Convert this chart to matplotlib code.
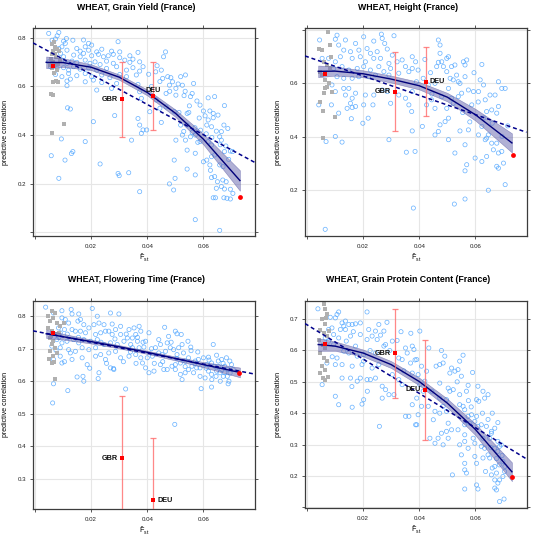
import matplotlib
matplotlib.use('Agg')
import matplotlib.pyplot as plt
import numpy as np

plt.rcParams['font.family'] = ['Liberation Sans', 'DejaVu Sans']
plt.rcParams['mathtext.fontset'] = 'custom'
plt.rcParams['mathtext.rm'] = 'Liberation Sans'
plt.rcParams['mathtext.it'] = 'Liberation Sans:italic'
plt.rcParams['mathtext.bf'] = 'Liberation Sans:bold'

# ---------------- shared ----------------
titles = ["WHEAT, Grain Yield (France)", "WHEAT, Height (France)",
          "WHEAT, Flowering Time (France)", "WHEAT, Grain Protein Content (France)"]
x_ticks = [0.0, 0.02, 0.04, 0.06]
x_tick_labels = ["", "0.02", "0.04", "0.06"]
x_limits = (-0.0007, 0.0782)
fit_f = [0.004, 0.01, 0.02, 0.03, 0.04, 0.05, 0.06, 0.073]
label_names = ["GBR", "DEU"]

# ---------------- panel 1 : Grain Yield ----------------
gy_f = [0.0049, 0.0085, 0.0079, 0.0112, 0.0061, 0.0073, 0.0102, 0.0108, 0.0135, 0.0173, 0.0191, 0.0202, 0.0296,
        0.0085, 0.0096, 0.0114, 0.0149, 0.0161, 0.0179, 0.0191, 0.0220, 0.0238, 0.0273, 0.0302,
        0.0091, 0.0102, 0.0138, 0.0161, 0.0173, 0.0202, 0.0226, 0.0244, 0.0261, 0.0279, 0.0302, 0.0367, 0.0338,
        0.0049, 0.0096, 0.0114, 0.0132, 0.0149, 0.0179, 0.0196, 0.0214, 0.0232, 0.0255, 0.0279, 0.0320, 0.0338, 0.0349, 0.0373,
        0.0055, 0.0079, 0.0102, 0.0120, 0.0138, 0.0161, 0.0191, 0.0220, 0.0255, 0.0291, 0.0326, 0.0349, 0.0373, 0.0385,
        0.0073, 0.0096, 0.0120, 0.0149, 0.0179, 0.0202, 0.0238, 0.0267, 0.0302, 0.0326, 0.0361,
        0.0114, 0.0126, 0.0179, 0.0208, 0.0238, 0.0291, 0.0367, 0.0114, 0.0273, 0.0373, 0.0220, 0.0379,
        0.0116, 0.0126, 0.0208, 0.0094, 0.0179, 0.0135, 0.0130, 0.0058, 0.0107, 0.0232, 0.0296, 0.0300, 0.0334,
        0.0085, 0.0373, 0.0344, 0.0367, 0.0373, 0.0385, 0.0379, 0.0284,
        0.0465, 0.0458, 0.0435, 0.0450, 0.0473, 0.0455, 0.0484, 0.0490, 0.0519, 0.0536, 0.0565, 0.0525, 0.0502,
        0.0479, 0.0467, 0.0502, 0.0531, 0.0560, 0.0554, 0.0617, 0.0640, 0.0577, 0.0588, 0.0675, 0.0542, 0.0600,
        0.0623, 0.0635, 0.0606, 0.0617, 0.0652, 0.0635, 0.0612, 0.0629, 0.0673, 0.0687, 0.0664, 0.0646, 0.0658,
        0.0571, 0.0560, 0.0554, 0.0525, 0.0502, 0.0536, 0.0588, 0.0542, 0.0571, 0.0617, 0.0629, 0.0664, 0.0696,
        0.0675, 0.0600, 0.0612, 0.0629, 0.0640, 0.0623, 0.0658, 0.0496, 0.0542, 0.0571, 0.0499, 0.0479, 0.0494,
        0.0629, 0.0640, 0.0669, 0.0681, 0.0650, 0.0664, 0.0646, 0.0675, 0.0696, 0.0635, 0.0643, 0.0673, 0.0684,
        0.0696, 0.0571, 0.0658, 0.0409, 0.0450, 0.0398, 0.0432, 0.0467, 0.0496, 0.0513, 0.0548, 0.0519, 0.0542,
        0.0704, 0.0570, 0.0590, 0.0530, 0.0610, 0.0630, 0.0660, 0.0680, 0.0690, 0.0670, 0.0625, 0.0705, 0.0580,
        0.0445, 0.0480, 0.0510, 0.0535, 0.0550, 0.0585, 0.0445, 0.0415, 0.0430, 0.0405]
gy_r = [0.818, 0.822, 0.808, 0.797, 0.790, 0.795, 0.786, 0.777, 0.790, 0.791, 0.777, 0.770, 0.784,
        0.756, 0.763, 0.749, 0.756, 0.745, 0.763, 0.749, 0.742, 0.753, 0.745, 0.742,
        0.736, 0.722, 0.729, 0.722, 0.736, 0.726, 0.732, 0.722, 0.726, 0.732, 0.718, 0.740, 0.726,
        0.701, 0.708, 0.695, 0.704, 0.699, 0.708, 0.695, 0.701, 0.690, 0.704, 0.695, 0.708, 0.699, 0.712, 0.701,
        0.681, 0.674, 0.677, 0.667, 0.681, 0.671, 0.677, 0.667, 0.674, 0.681, 0.667, 0.677, 0.663, 0.681,
        0.649, 0.640, 0.653, 0.644, 0.653, 0.640, 0.647, 0.636, 0.649, 0.640, 0.647,
        0.622, 0.630, 0.619, 0.626, 0.616, 0.612, 0.608, 0.603, 0.592, 0.578, 0.585, 0.551,
        0.512, 0.507, 0.455, 0.384, 0.373, 0.332, 0.324, 0.315, 0.297, 0.281, 0.242, 0.233, 0.245,
        0.222, 0.167, 0.379, 0.468, 0.441, 0.421, 0.407, 0.480,
        0.742, 0.722, 0.685, 0.667, 0.640, 0.633, 0.636, 0.619, 0.640, 0.647, 0.612, 0.605, 0.592,
        0.605, 0.571, 0.564, 0.562, 0.571, 0.558, 0.553, 0.558, 0.540, 0.523, 0.521, 0.489, 0.499,
        0.499, 0.489, 0.479, 0.462, 0.482, 0.471, 0.441, 0.434, 0.441, 0.427, 0.414, 0.416, 0.393,
        0.400, 0.411, 0.393, 0.400, 0.379, 0.379, 0.373, 0.338, 0.325, 0.373, 0.359, 0.379, 0.334,
        0.332, 0.290, 0.297, 0.311, 0.318, 0.277, 0.277, 0.297, 0.260, 0.236, 0.222, 0.199, 0.174,
        0.225, 0.229, 0.215, 0.208, 0.208, 0.188, 0.181, 0.178, 0.177, 0.142, 0.142, 0.142, 0.140,
        0.137, 0.052, 0.008, 0.496, 0.452, 0.421, 0.544, 0.516, 0.496, 0.493, 0.493, 0.441, 0.441,
        0.332, 0.430, 0.420, 0.415, 0.405, 0.390, 0.360, 0.355, 0.300, 0.270, 0.255, 0.160, 0.370,
        0.620, 0.580, 0.610, 0.580, 0.520, 0.470, 0.510, 0.600, 0.660, 0.650]
gy_ref_f = [0.0061, 0.0067, 0.0073, 0.0079, 0.0064, 0.0070, 0.0076, 0.0058, 0.0066, 0.0072, 0.0062, 0.0078, 0.0069,
            0.0082, 0.0085, 0.0059, 0.0065, 0.0075, 0.0082, 0.0058, 0.0064, 0.0102, 0.0061, 0.0055, 0.0088]
gy_ref_r = [0.773, 0.781, 0.764, 0.752, 0.745, 0.733, 0.722, 0.712, 0.702, 0.690, 0.676, 0.668, 0.655,
            0.693, 0.745, 0.735, 0.620, 0.622, 0.618, 0.568, 0.566, 0.444, 0.407, 0.690, 0.710]
gy_fit = [0.699, 0.698, 0.679, 0.638, 0.575, 0.490, 0.383, 0.213]
gy_band = [0.024, 0.018, 0.012, 0.011, 0.012, 0.015, 0.022, 0.042]
gy_lin = [0.779, 0.288]
gy_fra = [0.0065, 0.684]
gy_end = [0.0729, 0.145]
gy_pop_f = [0.031, 0.042]
gy_pop_r = [0.548, 0.560]
gy_pop_lo = [0.392, 0.419]
gy_pop_hi = [0.700, 0.700]

# ---------------- panel 2 : Height ----------------
ht_f = [0.0045, 0.0101, 0.0107, 0.0137, 0.0173, 0.0202, 0.0238, 0.0268, 0.0265, 0.0310, 0.0277, 0.0113, 0.0131,
        0.0155, 0.0185, 0.0214, 0.0226, 0.0250, 0.0286, 0.0304, 0.0339, 0.0375, 0.0387, 0.0054, 0.0077, 0.0101,
        0.0119, 0.0161, 0.0190, 0.0208, 0.0238, 0.0262, 0.0292, 0.0321, 0.0351, 0.0375, 0.0095, 0.0125, 0.0149,
        0.0179, 0.0202, 0.0226, 0.0256, 0.0274, 0.0298, 0.0327, 0.0363, 0.0107, 0.0131, 0.0161, 0.0185, 0.0220,
        0.0244, 0.0292, 0.0089, 0.0101, 0.0131, 0.0149, 0.0173, 0.0137, 0.0161, 0.0208, 0.0238, 0.0268, 0.0286,
        0.0298, 0.0327, 0.0351, 0.0363, 0.0375, 0.0373, 0.0087, 0.0155, 0.0161, 0.0173, 0.0202, 0.0235, 0.0199,
        0.0218, 0.0113, 0.0143, 0.0375, 0.0292, 0.0354, 0.0068, 0.0101, 0.0125, 0.0379, 0.0065, 0.0042, 0.0158,
        0.0468, 0.0474, 0.0474, 0.0504, 0.0498, 0.0480, 0.0468, 0.0462, 0.0486, 0.0498, 0.0515, 0.0527, 0.0557,
        0.0563, 0.0569, 0.0623, 0.0563, 0.0510, 0.0521, 0.0533, 0.0539, 0.0456, 0.0432, 0.0414, 0.0396, 0.0390,
        0.0617, 0.0629, 0.0682, 0.0706, 0.0694, 0.0670, 0.0652, 0.0635, 0.0611, 0.0593, 0.0575, 0.0551, 0.0539,
        0.0504, 0.0480, 0.0515, 0.0444, 0.0426, 0.0456, 0.0498, 0.0521, 0.0587, 0.0658, 0.0676, 0.0682, 0.0504,
        0.0492, 0.0474, 0.0468, 0.0456, 0.0504, 0.0545, 0.0575, 0.0623, 0.0611, 0.0635, 0.0646, 0.0658, 0.0664,
        0.0640, 0.0676, 0.0694, 0.0682, 0.0563, 0.0527, 0.0599, 0.0569, 0.0563, 0.0623, 0.0640, 0.0676, 0.0700,
        0.0682, 0.0706, 0.0646, 0.0563, 0.0525, 0.0411, 0.0385, 0.0640,
        0.0610, 0.0630, 0.0660, 0.0555, 0.0580, 0.0695, 0.0715, 0.0545, 0.0595, 0.0440, 0.0420, 0.0445]
ht_r = [0.763, 0.766, 0.781, 0.763, 0.750, 0.775, 0.759, 0.769, 0.785, 0.779, 0.750, 0.744, 0.725,
        0.719, 0.725, 0.731, 0.713, 0.719, 0.729, 0.706, 0.688, 0.700, 0.681, 0.694, 0.694, 0.681,
        0.700, 0.694, 0.700, 0.681, 0.694, 0.694, 0.675, 0.681, 0.663, 0.656, 0.656, 0.663, 0.650,
        0.656, 0.663, 0.650, 0.663, 0.644, 0.656, 0.638, 0.644, 0.625, 0.619, 0.619, 0.625, 0.625,
        0.631, 0.631, 0.594, 0.569, 0.581, 0.581, 0.563, 0.556, 0.544, 0.556, 0.556, 0.575, 0.569,
        0.525, 0.556, 0.544, 0.519, 0.569, 0.494, 0.519, 0.525, 0.509, 0.513, 0.519, 0.519, 0.450,
        0.469, 0.488, 0.506, 0.421, 0.388, 0.341, 0.381, 0.400, 0.379, 0.131, 0.051, 0.519, 0.467,
        0.763, 0.744, 0.713, 0.700, 0.694, 0.681, 0.679, 0.663, 0.663, 0.644, 0.663, 0.669, 0.681,
        0.669, 0.688, 0.671, 0.625, 0.619, 0.613, 0.631, 0.606, 0.600, 0.594, 0.619, 0.650, 0.606,
        0.613, 0.594, 0.606, 0.581, 0.581, 0.556, 0.556, 0.538, 0.569, 0.569, 0.575, 0.563, 0.550,
        0.581, 0.550, 0.544, 0.538, 0.519, 0.506, 0.506, 0.525, 0.519, 0.500, 0.488, 0.513, 0.469,
        0.456, 0.444, 0.419, 0.406, 0.388, 0.421, 0.425, 0.438, 0.406, 0.388, 0.406, 0.375, 0.350,
        0.394, 0.375, 0.344, 0.338, 0.369, 0.338, 0.319, 0.294, 0.271, 0.306, 0.325, 0.288, 0.300,
        0.281, 0.219, 0.198, 0.165, 0.146, 0.438, 0.344, 0.494,
        0.530, 0.470, 0.450, 0.490, 0.455, 0.400, 0.440, 0.600, 0.640, 0.640, 0.690, 0.560]
ht_ref_f = [0.0075, 0.0044, 0.0054, 0.0083, 0.0087, 0.0060, 0.0071, 0.0083, 0.0048, 0.0054, 0.0065, 0.0077,
            0.0071, 0.0060, 0.0048, 0.0056, 0.0099, 0.0056, 0.0089, 0.0065]
ht_ref_r = [0.794, 0.731, 0.725, 0.744, 0.700, 0.681, 0.669, 0.656, 0.644, 0.631, 0.613, 0.600,
            0.588, 0.563, 0.531, 0.496, 0.475, 0.396, 0.569, 0.581]
ht_fit = [0.645, 0.646, 0.636, 0.616, 0.591, 0.548, 0.482, 0.376]
ht_band = [0.022, 0.017, 0.013, 0.013, 0.014, 0.016, 0.022, 0.036]
ht_lin = [0.703, 0.416]
ht_fra = [0.0065, 0.635]
ht_end = [0.0733, 0.329]
ht_pop_f = [0.0312, 0.0423]
ht_pop_r = [0.569, 0.606]
ht_pop_lo = [0.419, 0.478]
ht_pop_hi = [0.716, 0.738]

# ---------------- panel 3 : Flowering Time ----------------
ft_f = [0.0038, 0.0066, 0.0096, 0.0129, 0.0132, 0.0156, 0.0204, 0.0222, 0.0269, 0.0299, 0.0096, 0.0108, 0.0120,
        0.0153, 0.0162, 0.0174, 0.0192, 0.0210, 0.0228, 0.0246, 0.0263, 0.0275, 0.0287, 0.0305, 0.0335, 0.0353,
        0.0359, 0.0371, 0.0377, 0.0084, 0.0090, 0.0105, 0.0132, 0.0144, 0.0162, 0.0180, 0.0216, 0.0234, 0.0251,
        0.0275, 0.0305, 0.0329, 0.0347, 0.0365, 0.0078, 0.0096, 0.0114, 0.0138, 0.0156, 0.0174, 0.0198, 0.0222,
        0.0246, 0.0269, 0.0293, 0.0317, 0.0341, 0.0371, 0.0060, 0.0090, 0.0120, 0.0144, 0.0168, 0.0192, 0.0216,
        0.0234, 0.0263, 0.0287, 0.0305, 0.0335, 0.0359, 0.0377, 0.0383, 0.0066, 0.0096, 0.0132, 0.0168, 0.0186,
        0.0251, 0.0269, 0.0281, 0.0228, 0.0150, 0.0171, 0.0174, 0.0117, 0.0066, 0.0063, 0.0323, 0.0090, 0.0126,
        0.0216, 0.0347, 0.0225, 0.0280, 0.0255, 0.0195, 0.0105, 0.0315, 0.0340, 0.0360, 0.0385, 0.0075, 0.0085,
        0.0115, 0.0155, 0.0235, 0.0285, 0.0325, 0.0365,
        0.0462, 0.0441, 0.0406, 0.0394, 0.0388, 0.0429, 0.0447, 0.0471, 0.0476, 0.0500, 0.0506, 0.0521, 0.0545,
        0.0524, 0.0512, 0.0494, 0.0482, 0.0465, 0.0453, 0.0441, 0.0418, 0.0400, 0.0394, 0.0424, 0.0406, 0.0447,
        0.0459, 0.0471, 0.0488, 0.0500, 0.0518, 0.0535, 0.0547, 0.0556, 0.0529, 0.0506, 0.0635, 0.0647, 0.0618,
        0.0600, 0.0582, 0.0571, 0.0559, 0.0588, 0.0612, 0.0629, 0.0653, 0.0665, 0.0682, 0.0694, 0.0676, 0.0665,
        0.0647, 0.0629, 0.0618, 0.0606, 0.0588, 0.0576, 0.0524, 0.0518, 0.0535, 0.0671, 0.0688, 0.0691, 0.0629,
        0.0592, 0.0500, 0.0547, 0.0565, 0.0641, 0.0659, 0.0676, 0.0706, 0.0688, 0.0700, 0.0498,
        0.0630, 0.0660, 0.0685, 0.0655, 0.0610, 0.0570, 0.0535, 0.0505, 0.0455, 0.0425, 0.0415, 0.0485, 0.0555,
        0.0580, 0.0620, 0.0670, 0.0695, 0.0645]
ft_r = [0.828, 0.810, 0.817, 0.821, 0.807, 0.807, 0.824, 0.800, 0.810, 0.807, 0.795, 0.790, 0.779,
        0.785, 0.790, 0.774, 0.764, 0.774, 0.779, 0.774, 0.754, 0.776, 0.759, 0.769, 0.759, 0.764,
        0.744, 0.769, 0.754, 0.764, 0.749, 0.759, 0.759, 0.754, 0.754, 0.749, 0.744, 0.749, 0.754,
        0.744, 0.744, 0.733, 0.733, 0.723, 0.728, 0.718, 0.723, 0.728, 0.718, 0.728, 0.723, 0.728,
        0.713, 0.718, 0.713, 0.723, 0.713, 0.703, 0.708, 0.703, 0.697, 0.692, 0.703, 0.697, 0.703,
        0.682, 0.687, 0.692, 0.672, 0.677, 0.682, 0.672, 0.656, 0.667, 0.656, 0.667, 0.672, 0.651,
        0.667, 0.641, 0.636, 0.626, 0.613, 0.615, 0.600, 0.571, 0.592, 0.533, 0.576, 0.677, 0.687,
        0.677, 0.703, 0.608, 0.639, 0.655, 0.640, 0.660, 0.660, 0.690, 0.655, 0.720, 0.695, 0.735,
        0.745, 0.735, 0.720, 0.730, 0.745, 0.735,
        0.766, 0.728, 0.749, 0.723, 0.705, 0.703, 0.713, 0.718, 0.738, 0.754, 0.746, 0.744, 0.723,
        0.713, 0.703, 0.697, 0.703, 0.692, 0.682, 0.687, 0.677, 0.672, 0.641, 0.631, 0.626, 0.651,
        0.636, 0.636, 0.646, 0.651, 0.656, 0.662, 0.672, 0.694, 0.687, 0.682, 0.713, 0.680, 0.674,
        0.672, 0.667, 0.662, 0.646, 0.641, 0.651, 0.656, 0.662, 0.667, 0.672, 0.662, 0.646, 0.636,
        0.631, 0.621, 0.631, 0.610, 0.615, 0.641, 0.605, 0.621, 0.626, 0.615, 0.592, 0.600, 0.582,
        0.577, 0.636, 0.636, 0.626, 0.646, 0.626, 0.626, 0.636, 0.636, 0.651, 0.467,
        0.605, 0.600, 0.615, 0.645, 0.640, 0.655, 0.645, 0.670, 0.660, 0.655, 0.700, 0.720, 0.705,
        0.690, 0.665, 0.655, 0.625, 0.615]
ft_ref_f = [0.0060, 0.0072, 0.0048, 0.0066, 0.0054, 0.0078, 0.0090, 0.0105, 0.0048, 0.0060, 0.0072, 0.0054,
            0.0066, 0.0060, 0.0072, 0.0054, 0.0066, 0.0078, 0.0062, 0.0072, 0.0084, 0.0050, 0.0068, 0.0058]
ft_ref_r = [0.815, 0.810, 0.800, 0.795, 0.785, 0.779, 0.769, 0.779, 0.764, 0.754, 0.744, 0.733,
            0.723, 0.713, 0.703, 0.692, 0.677, 0.687, 0.656, 0.608, 0.749, 0.667, 0.660, 0.740]
ft_fit = [0.746, 0.737, 0.722, 0.706, 0.689, 0.670, 0.651, 0.627]
ft_band = [0.013, 0.009, 0.006, 0.005, 0.005, 0.006, 0.008, 0.015]
ft_lin = [0.755, 0.622]
ft_fra = [0.0066, 0.747]
ft_end = [0.0726, 0.626]
ft_pop_f = [0.031, 0.0421]
ft_pop_r = [0.363, 0.233]
ft_pop_lo = [0.170, 0.050]
ft_pop_hi = [0.554, 0.425]

# ---------------- panel 4 : Grain Protein Content ----------------
gp_f = [0.0039, 0.0113, 0.0107, 0.0101, 0.0083, 0.0125, 0.0137, 0.0131, 0.0149, 0.0161, 0.0173, 0.0190, 0.0214,
        0.0256, 0.0244, 0.0220, 0.0274, 0.0232, 0.0262, 0.0137, 0.0119, 0.0089, 0.0077, 0.0095, 0.0113, 0.0155,
        0.0190, 0.0214, 0.0250, 0.0280, 0.0321, 0.0351, 0.0375, 0.0357, 0.0077, 0.0095, 0.0107, 0.0131, 0.0149,
        0.0173, 0.0179, 0.0202, 0.0244, 0.0274, 0.0304, 0.0327, 0.0339, 0.0369, 0.0381, 0.0101, 0.0125, 0.0161,
        0.0196, 0.0232, 0.0256, 0.0202, 0.0071, 0.0155, 0.0179, 0.0190, 0.0214, 0.0226, 0.0244, 0.0268, 0.0280,
        0.0304, 0.0327, 0.0339, 0.0292, 0.0310, 0.0268, 0.0202, 0.0196, 0.0161, 0.0113, 0.0101, 0.0054, 0.0125,
        0.0375, 0.0351, 0.0363, 0.0387, 0.0258, 0.0375, 0.0285, 0.0335, 0.0370, 0.0295, 0.0225, 0.0140, 0.0165,
        0.0065, 0.0090, 0.0385, 0.0345, 0.0160, 0.0215,
        0.0402, 0.0434, 0.0391, 0.0408, 0.0426, 0.0396, 0.0420, 0.0402, 0.0414, 0.0391, 0.0408, 0.0432, 0.0396,
        0.0391, 0.0450, 0.0479, 0.0491, 0.0485, 0.0473, 0.0515, 0.0527, 0.0538, 0.0550, 0.0556, 0.0544, 0.0509,
        0.0473, 0.0503, 0.0509, 0.0521, 0.0574, 0.0568, 0.0544, 0.0604, 0.0612, 0.0633, 0.0645, 0.0627, 0.0609,
        0.0473, 0.0497, 0.0485, 0.0456, 0.0473, 0.0497, 0.0503, 0.0515, 0.0544, 0.0556, 0.0562, 0.0574, 0.0586,
        0.0604, 0.0598, 0.0580, 0.0562, 0.0609, 0.0621, 0.0639, 0.0657, 0.0669, 0.0651, 0.0627, 0.0621, 0.0633,
        0.0645, 0.0651, 0.0669, 0.0680, 0.0686, 0.0692, 0.0680, 0.0669, 0.0675, 0.0686, 0.0669, 0.0680, 0.0698,
        0.0698, 0.0704, 0.0562, 0.0562, 0.0544, 0.0503, 0.0479, 0.0485, 0.0467, 0.0438, 0.0456, 0.0550, 0.0574,
        0.0604, 0.0598, 0.0562, 0.0562, 0.0609, 0.0604, 0.0669, 0.0675, 0.0686, 0.0702, 0.0497, 0.0592, 0.0538,
        0.0598, 0.0657, 0.0518, 0.0568, 0.0627, 0.0636, 0.0657, 0.0562,
        0.0625, 0.0645, 0.0660, 0.0680, 0.0655, 0.0695, 0.0685, 0.0675, 0.0705, 0.0660, 0.0575, 0.0535, 0.0590,
        0.0445, 0.0460, 0.0585]
gp_r = [0.733, 0.723, 0.715, 0.704, 0.706, 0.688, 0.694, 0.678, 0.683, 0.683, 0.685, 0.688, 0.723,
        0.683, 0.662, 0.667, 0.662, 0.646, 0.649, 0.667, 0.667, 0.672, 0.667, 0.651, 0.640, 0.646,
        0.651, 0.635, 0.635, 0.619, 0.632, 0.608, 0.614, 0.592, 0.630, 0.619, 0.576, 0.598, 0.592,
        0.614, 0.582, 0.587, 0.592, 0.614, 0.630, 0.576, 0.571, 0.560, 0.603, 0.555, 0.555, 0.550,
        0.555, 0.544, 0.555, 0.566, 0.560, 0.512, 0.502, 0.512, 0.507, 0.507, 0.512, 0.486, 0.475,
        0.523, 0.507, 0.491, 0.459, 0.459, 0.448, 0.443, 0.429, 0.419, 0.427, 0.454, 0.491, 0.512,
        0.427, 0.390, 0.390, 0.363, 0.358, 0.528, 0.690, 0.660, 0.655, 0.600, 0.600, 0.630, 0.660,
        0.640, 0.580, 0.570, 0.535, 0.485, 0.470,
        0.662, 0.608, 0.571, 0.550, 0.534, 0.523, 0.502, 0.491, 0.470, 0.448, 0.422, 0.422, 0.395,
        0.363, 0.379, 0.600, 0.582, 0.560, 0.555, 0.544, 0.534, 0.539, 0.518, 0.585, 0.566, 0.528,
        0.496, 0.480, 0.470, 0.475, 0.489, 0.470, 0.459, 0.443, 0.438, 0.448, 0.459, 0.470, 0.486,
        0.448, 0.443, 0.422, 0.406, 0.400, 0.406, 0.368, 0.347, 0.427, 0.422, 0.411, 0.390, 0.395,
        0.390, 0.374, 0.368, 0.363, 0.358, 0.363, 0.358, 0.336, 0.352, 0.320, 0.320, 0.294, 0.288,
        0.267, 0.257, 0.288, 0.278, 0.294, 0.299, 0.310, 0.230, 0.209, 0.187, 0.187, 0.177, 0.198,
        0.246, 0.214, 0.331, 0.310, 0.299, 0.320, 0.336, 0.299, 0.320, 0.320, 0.304, 0.267, 0.288,
        0.240, 0.262, 0.240, 0.219, 0.158, 0.171, 0.161, 0.155, 0.118, 0.126, 0.342, 0.320, 0.347,
        0.304, 0.203, 0.203, 0.209, 0.257, 0.214, 0.342, 0.158,
        0.400, 0.380, 0.400, 0.370, 0.290, 0.265, 0.235, 0.255, 0.230, 0.225, 0.440, 0.500, 0.530,
        0.470, 0.550, 0.420]
gp_ref_f = [0.0060, 0.0063, 0.0071, 0.0054, 0.0065, 0.0048, 0.0060, 0.0071, 0.0042, 0.0056, 0.0065, 0.0048,
            0.0060, 0.0071, 0.0054, 0.0063, 0.0048, 0.0056, 0.0065, 0.0075, 0.0068, 0.0077]
gp_ref_r = [0.747, 0.731, 0.715, 0.699, 0.683, 0.667, 0.656, 0.646, 0.635, 0.619, 0.608, 0.592,
            0.576, 0.566, 0.550, 0.539, 0.528, 0.512, 0.507, 0.515, 0.704, 0.662]
gp_fit = [0.619, 0.614, 0.592, 0.555, 0.501, 0.432, 0.348, 0.213]
gp_band = [0.020, 0.015, 0.011, 0.011, 0.012, 0.014, 0.018, 0.030]
gp_lin = [0.686, 0.254]
gp_fra = [0.0063, 0.621]
gp_end = [0.0731, 0.196]
gp_pop_f = [0.0312, 0.0422]
gp_pop_r = [0.592, 0.475]
gp_pop_lo = [0.448, 0.315]
gp_pop_hi = [0.734, 0.633]

# ---------------- layout / style (not data) ----------------
W = H = 545.0
boxes = [(33, 28.3, 254.5, 235.7), (305, 28.3, 526.5, 235.7),
         (33, 301.3, 254.5, 508.5), (305, 301.3, 526.5, 507.5)]
title_xy = [(136, 7.5), (408.5, 7.5), (136, 279.5), (408.5, 279.5)]
ylims = [(-0.014, 0.839), (0.027, 0.807), (0.208, 0.846), (0.099, 0.757)]
yticks = [[0.0, 0.2, 0.4, 0.6, 0.8], [0.2, 0.4, 0.6, 0.8], [0.3, 0.4, 0.5, 0.6, 0.7, 0.8],
          [0.1, 0.2, 0.3, 0.4, 0.5, 0.6, 0.7]]
ytick_labels = [["", "0.2", "0.4", "0.6", "0.8"], ["0.2", "0.4", "0.6", ""],
                ["0.3", "0.4", "0.5", "0.6", "0.7", "0.8"], ["", "0.2", "0.3", "0.4", "0.5", "0.6", "0.7"]]
# label placement per panel: (dx pts, dy pts, ha, va)
lab_pos = [[(-3, 0, 'right', 'center'), (0, 1.5, 'center', 'bottom')],
           [(-3, 0, 'right', 'center'), (3, 0, 'left', 'center')],
           [(-3, 0, 'right', 'center'), (3, 0, 'left', 'center')],
           [(-3, 0, 'right', 'center'), (-3, 0, 'right', 'center')]]

panels = [
    (gy_f, gy_r, gy_ref_f, gy_ref_r, gy_fit, gy_band, gy_lin, gy_fra, gy_end, gy_pop_f, gy_pop_r, gy_pop_lo, gy_pop_hi),
    (ht_f, ht_r, ht_ref_f, ht_ref_r, ht_fit, ht_band, ht_lin, ht_fra, ht_end, ht_pop_f, ht_pop_r, ht_pop_lo, ht_pop_hi),
    (ft_f, ft_r, ft_ref_f, ft_ref_r, ft_fit, ft_band, ft_lin, ft_fra, ft_end, ft_pop_f, ft_pop_r, ft_pop_lo, ft_pop_hi),
    (gp_f, gp_r, gp_ref_f, gp_ref_r, gp_fit, gp_band, gp_lin, gp_fra, gp_end, gp_pop_f, gp_pop_r, gp_pop_lo, gp_pop_hi),
]

fig = plt.figure(figsize=(5.45, 5.45), dpi=100)
fig.patch.set_facecolor('white')

frame_col = '#3c3c3c'
for i, (pf, pr, rf, rr, fit, band, lin, fra, end, popf, popr, poplo, pophi) in enumerate(panels):
    l, t, r, b = boxes[i]
    ax = fig.add_axes([l / W, 1 - b / H, (r - l) / W, (b - t) / H])
    ax.set_xlim(*x_limits)
    ax.set_ylim(*ylims[i])
    ax.set_xticks(x_ticks)
    ax.set_xticklabels(x_tick_labels)
    ax.set_yticks(yticks[i])
    ax.set_yticklabels(ytick_labels[i])
    ax.grid(True, color='#e6e6e6', lw=0.8, zorder=0)
    ax.set_axisbelow(True)
    for s in ax.spines.values():
        s.set_color(frame_col)
        s.set_linewidth(0.9)
    ax.tick_params(axis='both', which='both', direction='out', length=2.4, width=0.6,
                   color=frame_col, labelsize=4.4, labelcolor='#222222', top=True, right=True)
    ax.tick_params(axis='x', pad=3.5)
    ax.tick_params(axis='y', pad=2.2)

    ax.scatter(pf, pr, s=9, facecolors='none', edgecolors='#4aa3ff', linewidths=0.5, alpha=0.85, zorder=2)
    ax.scatter(rf, rr, s=5, marker='s', color='#b0b0b0', linewidths=0, zorder=2.5)

    fit_arr = np.array(fit)
    band_arr = np.array(band)
    ax.fill_between(fit_f, fit_arr - band_arr, fit_arr + band_arr, facecolor='#6f6fb3', alpha=0.55,
                    edgecolor='#4a4a9a', linewidth=0.4, zorder=3)
    ax.plot(fit_f, fit, color='#00007a', lw=1.0, zorder=4)
    ax.plot(list(x_limits), lin, color='#00008b', lw=1.1, dashes=(2.6, 1.9), zorder=4.5)

    for j in range(2):
        ax.errorbar([popf[j]], [popr[j]], yerr=[[popr[j] - poplo[j]], [pophi[j] - popr[j]]], fmt='none',
                    ecolor='#ff6a6a', alpha=0.8, elinewidth=0.9, capsize=2.2, capthick=0.9, zorder=5)
    ax.scatter(popf, popr, s=5, marker='s', color='#ff0000', linewidths=0, zorder=6)
    ax.scatter([fra[0]], [fra[1]], s=11, marker='s', color='#ff0000', linewidths=0, zorder=6)
    ax.scatter([end[0]], [end[1]], s=12, marker='o', color='#ff0000', linewidths=0, zorder=6)
    for j in range(2):
        dx, dy, ha, va = lab_pos[i][j]
        ax.annotate(label_names[j], (popf[j], popr[j]), xytext=(dx, dy), textcoords='offset points',
                    ha=ha, va=va, fontsize=5.2, fontweight='bold', color='#111111', zorder=7)

    tx, ty = title_xy[i]
    fig.text(tx / W, 1 - ty / H, titles[i], ha='center', va='center', fontsize=6.3, fontweight='bold')
    fig.text((l + r) / 2 / W, 1 - (b + 22.5) / H, r'$\hat{\mathrm{F}}_{\mathrm{st}}$', ha='center', va='center',
             fontsize=5.2)
    fig.text((l - 27) / W, 1 - (t + b) / 2 / H, 'predictive correlation', rotation=90, ha='center', va='center',
             fontsize=5.0)

fig.savefig('out.png', dpi=100)
